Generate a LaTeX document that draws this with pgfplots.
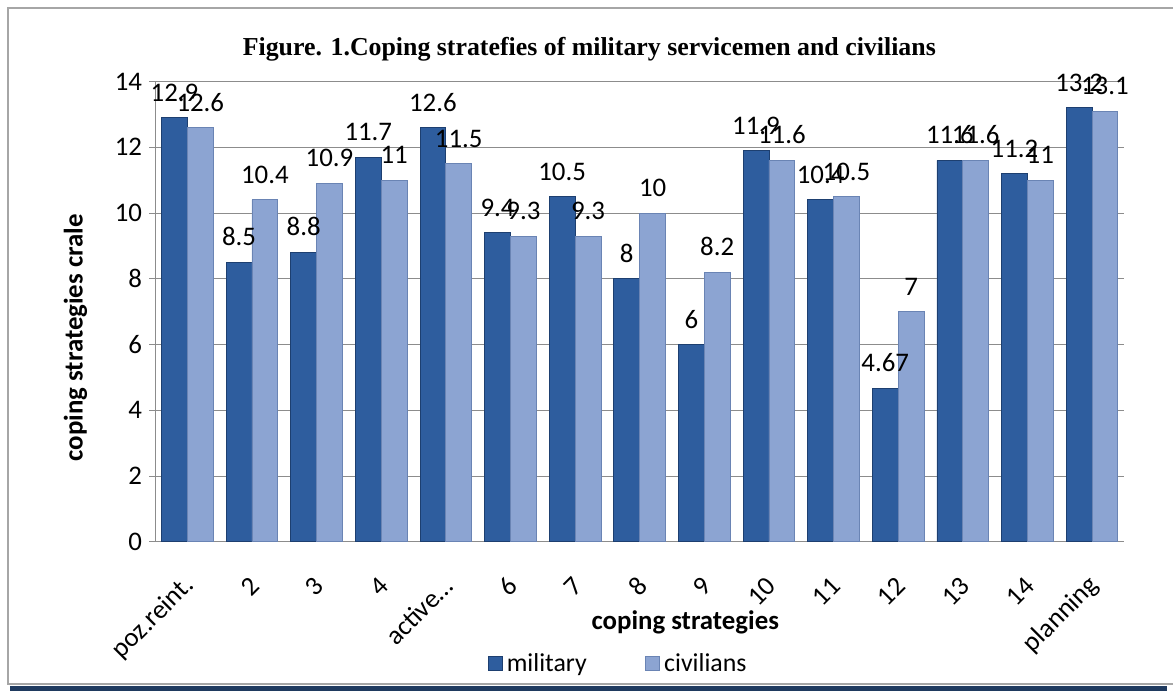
\documentclass[border=0pt]{standalone}
\usepackage{pgfplots}
\pgfplotsset{compat=1.18}
\usepackage{fontspec}
\setmainfont{Carlito}
\newfontfamily\titlefont{Liberation Serif}

\definecolor{milblue}{HTML}{2E5D9E}
\definecolor{miledge}{HTML}{1D3F70}
\definecolor{civblue}{HTML}{8CA4D2}
\definecolor{civedge}{HTML}{6A84B4}
\definecolor{gridgray}{HTML}{8C8C8C}
\definecolor{navy}{HTML}{1F3A5F}

\begin{document}
\begin{tikzpicture}
% page extent (1px = 0.5pt, origin at lower left of plot area)
\path (-78pt,-75pt) rectangle (509pt,272.5pt);
\begin{axis}[
    at={(0pt,0pt)}, anchor=south west,
    width=487.5pt, height=231.5pt, scale only axis,
    ybar=0pt, bar width=13pt,
    xmin=-0.5, xmax=14.5,
    ymin=0, ymax=14,
    ytick={0,2,...,14},
    xtick={0,...,14},
    xticklabels={poz.reint.,2,3,4,active\ldots,6,7,8,9,10,11,12,13,14,planning},
    x tick style={draw=none},
    extra x ticks={-0.5,0.5,...,14.5},
    extra x tick labels={},
    extra x tick style={major tick length=3pt, tick align=outside, tick style={draw=gridgray, thin}, grid=none},
    y tick style={draw=gridgray, thin},
    major tick length=3pt, tick align=outside,
    axis x line*=bottom, axis y line*=left,
    axis line style={draw=gridgray, thin, -},
    ymajorgrids, grid style={draw=gridgray, thin},
    tick label style={font=\fontsize{13.5}{15}\selectfont},
    xticklabel style={rotate=45, anchor=east, inner sep=0pt, xshift=-11pt, yshift=-13pt},
    /pgf/number format/assume math mode=true,
    nodes near coords,
    every node near coord/.append style={font=\fontsize{13.5}{15}\selectfont, anchor=south, inner sep=1pt, yshift=7pt},
    title={\titlefont\bfseries Figure. 1.Coping stratefies of military servicemen and civilians},
    title style={font=\fontsize{13}{15}\selectfont, at={(axis description cs:0.448,1.0435)}, anchor=center},
    xlabel={\bfseries coping strategies},
    xlabel style={font=\fontsize{13.5}{15}\selectfont, at={(axis description cs:0.547,-0.1663)}, anchor=center, yshift=-2pt},
    ylabel={\bfseries coping strategies crale},
    ylabel style={font=\fontsize{13.5}{15}\selectfont, at={(axis description cs:-0.082,0.443)}, anchor=center},
    legend columns=2,
    legend style={draw=none, fill=none, font=\fontsize{13}{15}\selectfont,
        at={(axis description cs:0.479,-0.265)}, anchor=center,
        /tikz/every even column/.append style={column sep=27.5pt}},
    legend image code/.code={\draw[#1] (0pt,-3.5pt) rectangle (7pt,3.5pt);},
]
\addplot[fill=milblue, draw=miledge, line width=0.4pt] coordinates {
    (0,12.9) (1,8.5) (2,8.8) (3,11.7) (4,12.6) (5,9.4) (6,10.5) (7,8)
    (8,6) (9,11.9) (10,10.4) (11,4.67) (12,11.6) (13,11.2) (14,13.2)};
\addlegendentry{military}
\addplot[fill=civblue, draw=civedge, line width=0.4pt] coordinates {
    (0,12.6) (1,10.4) (2,10.9) (3,11) (4,11.5) (5,9.3) (6,9.3) (7,10)
    (8,8.2) (9,11.6) (10,10.5) (11,7) (12,11.6) (13,11) (14,13.1)};
\addlegendentry{civilians}
\end{axis}
% chart frame
\draw[draw=gray!70, line width=1pt] (512pt,268.5pt) -- (-74pt,268.5pt) -- (-74pt,-71.5pt) -- (512pt,-71.5pt);
\fill[navy] (-73pt,-75pt) rectangle (509pt,-72.5pt);
\end{tikzpicture}
\end{document}
